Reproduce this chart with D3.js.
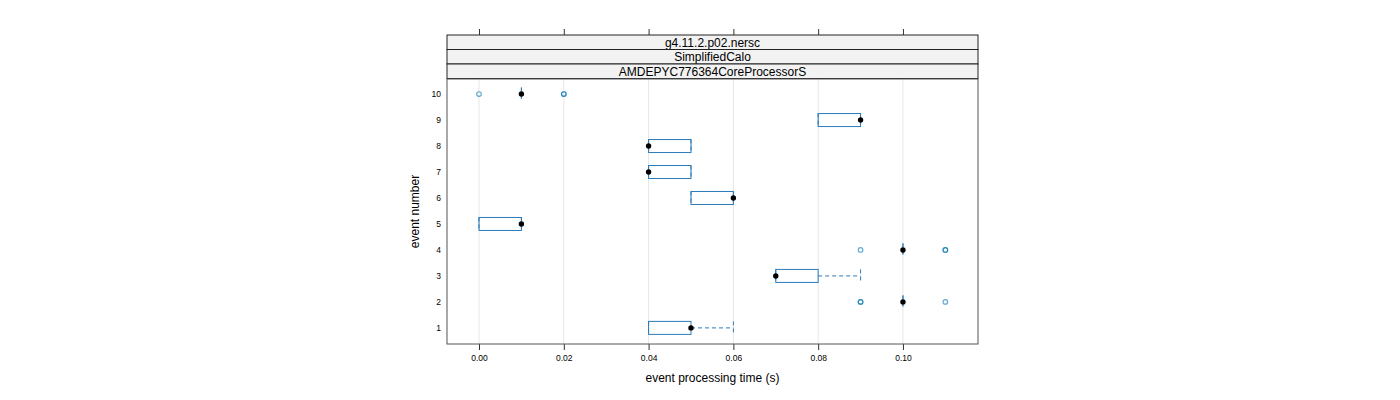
<!DOCTYPE html>
<html>
<head>
<meta charset="utf-8">
<script src="https://cdn.jsdelivr.net/npm/d3@7"></script>
<style>
html,body{margin:0;padding:0;background:#fff;}
svg{display:block;font-family:"Liberation Sans",Arial,sans-serif;}
</style>
</head>
<body>
<svg id="chart" width="1400" height="400"></svg>
<script>
const stripLabels = ["g4.11.2.p02.nersc", "SimplifiedCalo", "AMDEPYC776364CoreProcessorS"];
const events = [1, 2, 3, 4, 5, 6, 7, 8, 9, 10];
const q1 =      [0.04, 0.10, 0.07, 0.10, 0.00, 0.05, 0.04, 0.04, 0.08, 0.01];
const medians = [0.05, 0.10, 0.07, 0.10, 0.01, 0.06, 0.04, 0.04, 0.09, 0.01];
const q3 =      [0.05, 0.10, 0.08, 0.10, 0.01, 0.06, 0.05, 0.05, 0.09, 0.01];
const whiskLo = [0.04, 0.10, 0.07, 0.10, 0.00, 0.05, 0.04, 0.04, 0.08, 0.01];
const whiskHi = [0.06, 0.10, 0.09, 0.10, 0.01, 0.06, 0.05, 0.05, 0.09, 0.01];
const outliers = [[], [0.09, 0.09, 0.11], [], [0.09, 0.11, 0.11], [], [], [], [], [], [0.00, 0.02, 0.02]];
const xTicks = [0.00, 0.02, 0.04, 0.06, 0.08, 0.10];
const xTitle = "event processing time (s)";
const yTitle = "event number";

const svg = d3.select("#chart");
const P = {left: 447, right: 978, top: 79, bottom: 344};
const stripTop = 35, stripH = 14.5;

const x = d3.scaleLinear().domain([-0.00755, 0.1177]).range([P.left, P.right]);
const y = d3.scaleLinear().domain([0.38, 10.58]).range([P.bottom, P.top]);

const boxCol = "#2b7bba";
const boxH = 13;

// gridlines
svg.append("g").selectAll("line").data(xTicks).join("line")
  .attr("x1", d => x(d)).attr("x2", d => x(d))
  .attr("y1", P.top).attr("y2", P.bottom)
  .attr("stroke", "#e6e6e6").attr("stroke-width", 1);

// strips
const strips = svg.append("g");
stripLabels.forEach((s, i) => {
  const yy = stripTop + i * stripH;
  strips.append("rect").attr("x", P.left).attr("y", yy).attr("width", P.right - P.left).attr("height", stripH)
    .attr("fill", "#f2f2f2").attr("stroke", "#222").attr("stroke-width", 1);
  strips.append("text").attr("x", (P.left + P.right) / 2).attr("y", yy + stripH / 2 + 4.3)
    .attr("text-anchor", "middle").attr("font-size", 12).attr("fill", "#000").text(s);
});

// top axis ticks
svg.append("g").attr("transform", `translate(0,${stripTop})`)
  .call(d3.axisTop(x).tickValues(xTicks).tickSize(6).tickFormat(""))
  .call(g => g.select(".domain").remove())
  .call(g => g.selectAll("line").attr("stroke", "#333"));

// bottom axis
svg.append("g").attr("transform", `translate(0,${P.bottom})`)
  .call(d3.axisBottom(x).tickValues(xTicks).tickSize(6).tickPadding(5).tickFormat(d3.format(".2f")))
  .call(g => g.select(".domain").remove())
  .call(g => g.selectAll("line").attr("stroke", "#333"))
  .call(g => g.selectAll("text").attr("font-size", 8.5).attr("fill", "#000").attr("font-family", "Liberation Sans, Arial, sans-serif"));

// left axis labels
svg.append("g").attr("transform", `translate(${P.left},0)`)
  .call(d3.axisLeft(y).tickValues(events).tickSize(0).tickPadding(6).tickFormat(d3.format("d")))
  .call(g => g.select(".domain").remove())
  .call(g => g.selectAll("text").attr("font-size", 8.5).attr("fill", "#000").attr("font-family", "Liberation Sans, Arial, sans-serif"));

// boxes
const data = events.map((e, i) => ({e, q1: q1[i], med: medians[i], q3: q3[i], lo: whiskLo[i], hi: whiskHi[i], out: outliers[i]}));
const gb = svg.append("g");
data.forEach(d => {
  const cy = y(d.e);
  [[d.lo, d.q1], [d.q3, d.hi]].forEach(([a, b]) => {
    gb.append("line").attr("x1", x(a)).attr("x2", x(b)).attr("y1", cy).attr("y2", cy)
      .attr("stroke", boxCol).attr("stroke-dasharray", "4,3").attr("stroke-width", 1);
  });
  [d.lo, d.hi].forEach(v => {
    gb.append("line").attr("x1", x(v)).attr("x2", x(v)).attr("y1", cy - boxH / 2).attr("y2", cy + boxH / 2)
      .attr("stroke", boxCol).attr("stroke-dasharray", "4,3").attr("stroke-width", 1);
  });
  gb.append("rect").attr("x", x(d.q1)).attr("y", cy - boxH / 2).attr("width", x(d.q3) - x(d.q1)).attr("height", boxH)
    .attr("fill", "none").attr("stroke", boxCol).attr("stroke-width", 1);
  gb.append("circle").attr("cx", x(d.med)).attr("cy", cy).attr("r", 2.7).attr("fill", "#000");
  d.out.forEach(v => {
    gb.append("circle").attr("cx", x(v)).attr("cy", cy).attr("r", 2.3)
      .attr("fill", "none").attr("stroke", "#0072b2").attr("stroke-opacity", 0.6).attr("stroke-width", 1.2);
  });
});

// panel border
svg.append("rect").attr("x", P.left).attr("y", P.top).attr("width", P.right - P.left).attr("height", P.bottom - P.top)
  .attr("fill", "none").attr("stroke", "#555").attr("stroke-width", 1);

// titles
svg.append("text").attr("x", (P.left + P.right) / 2).attr("y", 382).attr("text-anchor", "middle")
  .attr("font-size", 12).attr("fill", "#000").text(xTitle);
svg.append("text").attr("transform", `translate(419,${(P.top + P.bottom) / 2}) rotate(-90)`).attr("text-anchor", "middle")
  .attr("font-size", 12).attr("fill", "#000").text(yTitle);
</script>
</body>
</html>
